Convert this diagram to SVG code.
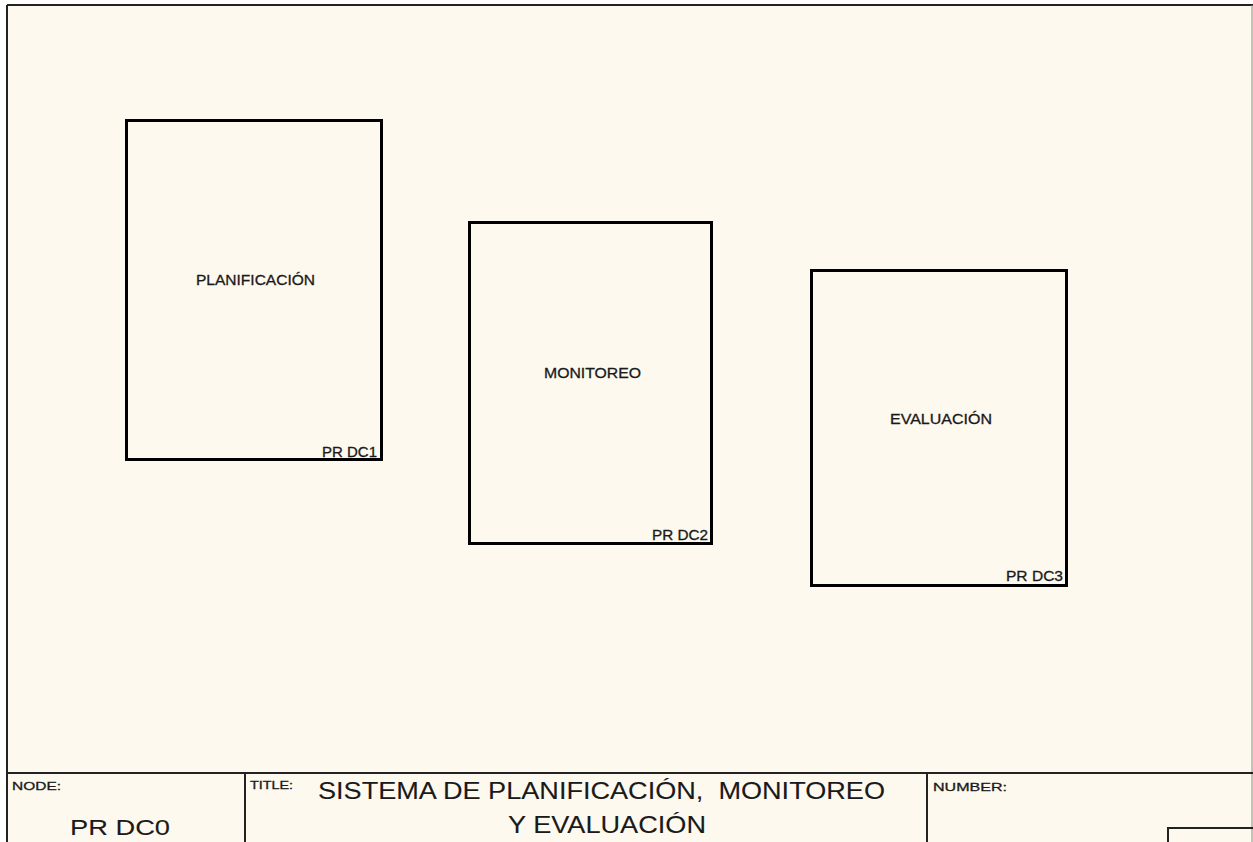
<svg xmlns="http://www.w3.org/2000/svg" width="1253" height="842" viewBox="0 0 1253 842">
<style>
.box{fill:none;stroke:#000;stroke-width:3}
.lbl{font-family:"Liberation Sans",Arial,sans-serif;fill:#1a1a1a;stroke:#1a1a1a;stroke-width:0.3}
.big{stroke-width:0.1}
.node{font-size:14.5px;text-anchor:start}
.code{font-size:14.5px;text-anchor:start}
.frame{stroke:#222;stroke-width:2;fill:none}
</style>
<rect x="0" y="0" width="1253" height="842" fill="#ffffff"/>
<rect x="7" y="6" width="1246" height="836" fill="#FEF9EE"/>
<g id="frame">
<line class="frame" x1="7" y1="5" x2="1253" y2="5"/>
<line class="frame" x1="7" y1="5" x2="7" y2="842"/>
<line x1="1252" y1="5" x2="1252" y2="842" stroke="#8a8a80" stroke-width="1"/>
<line class="frame" x1="7" y1="773" x2="1253" y2="773"/>
<line class="frame" x1="245" y1="773" x2="245" y2="842"/>
<line class="frame" x1="927" y1="773" x2="927" y2="842"/>
<rect x="1168" y="828" width="90" height="30" fill="none" stroke="#222" stroke-width="2"/>
</g>
<g id="title-block">
<text class="lbl" x="12" y="790" font-size="11.5" textLength="49" lengthAdjust="spacingAndGlyphs">NODE:</text>
<text class="lbl big" x="70" y="835" font-size="22" textLength="100" lengthAdjust="spacingAndGlyphs">PR DC0</text>
<text class="lbl" x="250" y="789" font-size="10.5" textLength="43" lengthAdjust="spacingAndGlyphs">TITLE:</text>
<text class="lbl big" x="318" y="799" font-size="24" textLength="567" lengthAdjust="spacingAndGlyphs" xml:space="preserve">SISTEMA DE PLANIFICACIÓN,  MONITOREO</text>
<text class="lbl big" x="508" y="833" font-size="24" textLength="198" lengthAdjust="spacingAndGlyphs">Y EVALUACIÓN</text>
<text class="lbl" x="933" y="791" font-size="11.5" textLength="74" lengthAdjust="spacingAndGlyphs">NUMBER:</text>
</g>
<g id="connectors"></g>
<g id="node-planificacion">
<rect class="box" x="126.5" y="120.5" width="255" height="339"/>
<text class="lbl node" x="196" y="285" textLength="119" lengthAdjust="spacingAndGlyphs">PLANIFICACIÓN</text>
<text class="lbl code" x="322" y="457" textLength="55" lengthAdjust="spacingAndGlyphs">PR DC1</text>
</g>
<g id="node-monitoreo">
<rect class="box" x="469.5" y="222.5" width="242" height="321"/>
<text class="lbl node" x="544" y="378" textLength="97" lengthAdjust="spacingAndGlyphs">MONITOREO</text>
<text class="lbl code" x="652" y="540" textLength="56" lengthAdjust="spacingAndGlyphs">PR DC2</text>
</g>
<g id="node-evaluacion">
<rect class="box" x="811.5" y="270.5" width="255" height="315"/>
<text class="lbl node" x="890" y="424" textLength="102" lengthAdjust="spacingAndGlyphs">EVALUACIÓN</text>
<text class="lbl code" x="1006" y="581" textLength="57" lengthAdjust="spacingAndGlyphs">PR DC3</text>
</g>
</svg>
